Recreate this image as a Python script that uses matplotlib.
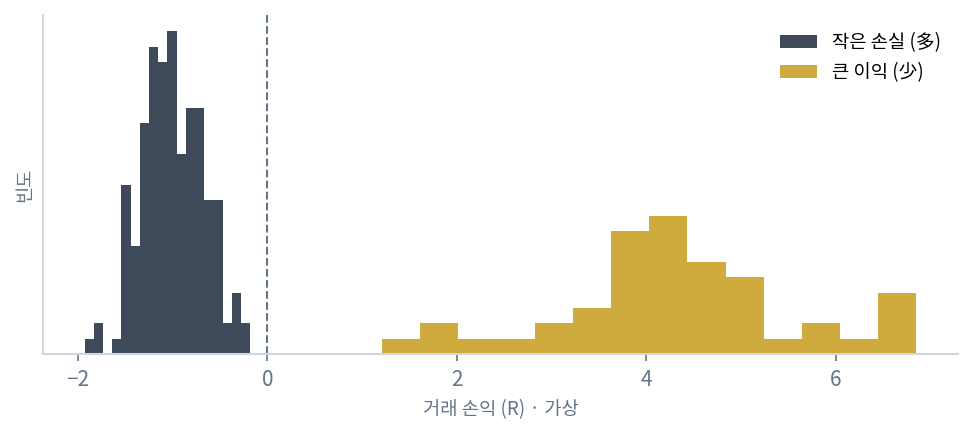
import numpy as np
import matplotlib
matplotlib.use('Agg')
import matplotlib.pyplot as plt

plt.rcParams['font.family'] = ['Noto Sans CJK KR', 'DejaVu Sans']

# Histogram counts
loss_counts = [1, 2, 0, 1, 11, 7, 15, 20, 19, 21, 13, 16, 16, 10, 10, 2, 4, 2]
loss_range = (-1.93, -0.18)
gain_counts = [1, 2, 1, 1, 2, 3, 8, 9, 6, 5, 1, 2, 1, 4]
gain_range = (1.21, 6.85)

loss_label = '작은 손실 (多)'
gain_label = '큰 이익 (少)'
x_label = '거래 손익 (R) · 가상'
y_label = '빈도'

dark = '#3e4a59'
gold = '#cfaa3c'
slate = '#64748b'
spine_c = '#cfd6e2'

fig, ax = plt.subplots(figsize=(974 / 150, 433 / 150), dpi=150)
fig.subplots_adjust(left=43 / 974, right=958 / 974, top=1 - 15 / 433, bottom=1 - 354 / 433)

# Bins and centres
loss_edges = np.linspace(loss_range[0], loss_range[1], len(loss_counts) + 1)
gain_edges = np.linspace(gain_range[0], gain_range[1], len(gain_counts) + 1)
loss_mid = (loss_edges[:-1] + loss_edges[1:]) / 2
gain_mid = (gain_edges[:-1] + gain_edges[1:]) / 2

ax.hist(loss_mid, bins=loss_edges, weights=loss_counts, color=dark, label=loss_label)
ax.hist(gain_mid, bins=gain_edges, weights=gain_counts, color=gold, label=gain_label)

# Break-even line
ax.axvline(0, color=slate, linestyle='--', linewidth=1.0)

# Formatting
ax.set_yticks([])
for s in ['top', 'right']:
    ax.spines[s].set_visible(False)
for s in ['left', 'bottom']:
    ax.spines[s].set_color(spine_c)
    ax.spines[s].set_linewidth(1.0)
ax.tick_params(axis='x', colors=slate, labelsize=10, length=3.5, width=0.8)
ax.set_xlabel(x_label, color=slate, fontsize=9)
ax.set_ylabel(y_label, color=slate, fontsize=9)

ax.legend(loc='upper right', frameon=False, fontsize=9)

plt.savefig('out.png', dpi=150)
plt.close()
